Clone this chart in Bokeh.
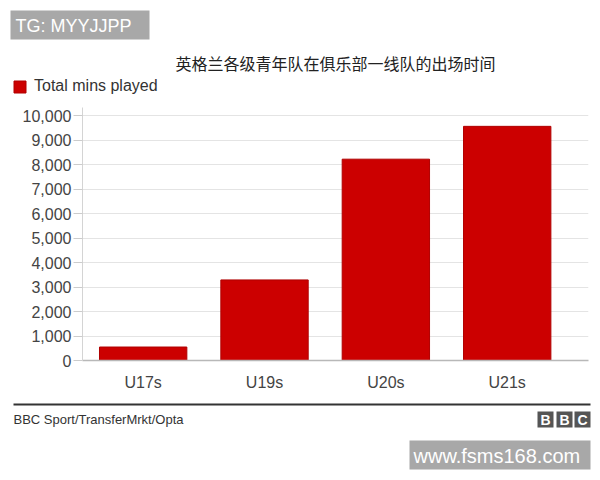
from bokeh.plotting import figure
from bokeh.layouts import column
from bokeh.models import (ColumnDataSource, Range1d, FixedTicker, NumeralTickFormatter,
                          Label, BoxAnnotation, Legend, LegendItem)
from bokeh.embed import file_html
from bokeh.resources import INLINE

# ---- data ----
categories = ["U17s", "U19s", "U20s", "U21s"]
total_mins = [550, 3290, 8220, 9560]
y_ticks = [0, 1000, 2000, 3000, 4000, 5000, 6000, 7000, 8000, 9000, 10000]
title_text = "英格兰各级青年队在俱乐部一线队的出场时间"
series_name = "Total mins played"
source_text = "BBC Sport/TransferMrkt/Opta"

BAR_COLOR = "#cc0000"
BAR_LINE = "#b00000"
GRAY_BOX = "#a8a8a8"
W = 600
HEAD_H, MAIN_H, FOOT_H = 100, 295, 85


def blank(h):
    f = figure(width=W, height=h, output_backend="svg", toolbar_location=None,
               x_range=Range1d(0, W), y_range=Range1d(0, h),
               x_axis_type=None, y_axis_type=None,
               min_border=0, min_border_left=0, min_border_right=0,
               min_border_top=0, min_border_bottom=0,
               outline_line_color=None, background_fill_color="white",
               border_fill_color="white")
    f.xgrid.grid_line_color = None
    f.ygrid.grid_line_color = None
    return f


def box(f, y0, left, right, top, bottom, color):
    f.add_layout(BoxAnnotation(left=left, right=right, top=f.height - (top - y0),
                               bottom=f.height - (bottom - y0),
                               left_units="screen", right_units="screen",
                               top_units="screen", bottom_units="screen",
                               fill_color=color, fill_alpha=1, line_color=None,
                               level="overlay"))


def label(f, y0, x, y, text, size, color, font="Liberation Sans", align="left",
          style="normal"):
    f.add_layout(Label(x=x, y=f.height - (y - y0), x_units="screen", y_units="screen",
                       text=text, text_align=align, text_baseline="middle",
                       text_font=font, text_font_size=size, text_font_style=style,
                       text_color=color, level="overlay"))


# ---------------- header ----------------
head = blank(HEAD_H)
box(head, 0, 10, 149, 10, 39, GRAY_BOX)
label(head, 0, 15, 25, "TG: MYYJJPP", "18px", "white")
label(head, 0, 335, 62, title_text, "16px", "#222222", font="Noto Sans CJK SC",
      align="center")
# legend swatch renderer (kept outside the visible range; only its style is shown)
legend_glyph = head.vbar(x=[-1000], top=[-1000], width=1,
                         fill_color=BAR_COLOR, line_color=BAR_LINE)
leg = Legend(items=[LegendItem(label=series_name, renderers=[legend_glyph])],
             location=(12, HEAD_H - 95), orientation="vertical",
             glyph_width=15, glyph_height=15, label_height=15,
             label_standoff=7, padding=0, margin=0, spacing=0,
             border_line_color=None, background_fill_alpha=0,
             label_text_font="Liberation Sans", label_text_font_size="16px",
             label_text_color="#333333", label_text_baseline="middle")
head.add_layout(leg, "center")

# ---------------- main chart ----------------
xpos = [i + 0.5 for i in range(len(categories))]
src = ColumnDataSource(dict(x=xpos, top=total_mins, cat=categories))

p = figure(width=W, height=MAIN_H, output_backend="svg", toolbar_location=None,
           x_range=Range1d(0, 4.17), y_range=Range1d(0, 10330),
           min_border_left=82, min_border_right=12, min_border_top=7,
           min_border_bottom=35, background_fill_color="white",
           border_fill_color="white", outline_line_color=None)

p.vbar(x="x", top="top", width=0.72, source=src,
       fill_color=BAR_COLOR, line_color=BAR_LINE, line_width=1)

p.xaxis.ticker = FixedTicker(ticks=xpos)
p.xaxis.major_label_overrides = {x: c for x, c in zip(xpos, categories)}
p.xaxis.major_tick_line_color = None
p.xaxis.minor_tick_line_color = None
p.xaxis.axis_line_color = "#b8b8b8"
p.xaxis.axis_line_width = 1.5
p.xaxis.major_label_standoff = 7
p.xaxis.major_label_text_font = "Liberation Sans"
p.xaxis.major_label_text_font_size = "16px"
p.xaxis.major_label_text_color = "#444444"

p.yaxis.ticker = FixedTicker(ticks=y_ticks)
p.yaxis.formatter = NumeralTickFormatter(format="0,0")
p.yaxis.axis_line_color = "#d4d4d4"
p.yaxis.major_tick_line_color = "#cccccc"
p.yaxis.major_tick_out = 9
p.yaxis.major_tick_in = 0
p.yaxis.minor_tick_line_color = None
p.yaxis.major_label_standoff = 2
p.yaxis.major_label_text_font = "Liberation Sans"
p.yaxis.major_label_text_font_size = "16px"
p.yaxis.major_label_text_color = "#444444"

p.xgrid.grid_line_color = None
p.ygrid.grid_line_color = "#e4e4e4"
p.ygrid.grid_line_width = 1

# ---------------- footer ----------------
FOOT_Y0 = HEAD_H + MAIN_H
foot = blank(FOOT_H)
box(foot, FOOT_Y0, 13, 590, 403, 405, "#333333")
label(foot, FOOT_Y0, 13, 419, source_text, "13px", "#333333")
for left, letter in [(537, "B"), (556, "B"), (574, "C")]:
    box(foot, FOOT_Y0, left, left + 16, 411, 427, "#555555")
    label(foot, FOOT_Y0, left + 8, 419, letter, "14px", "white", align="center",
          style="bold")
box(foot, FOOT_Y0, 409, 590, 440, 469, GRAY_BOX)
label(foot, FOOT_Y0, 413, 455, "www.fsms168.com", "20px", "white")

layout = column(column(head), column(p), column(foot), spacing=0)
open("out.html", "w").write(file_html(layout, INLINE))
